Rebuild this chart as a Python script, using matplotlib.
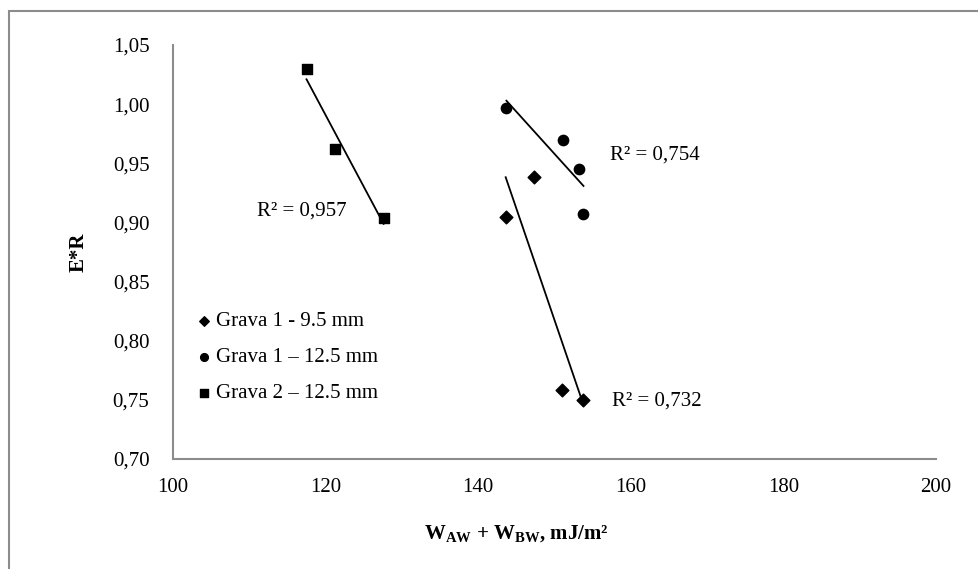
import matplotlib
matplotlib.use("Agg")
import matplotlib.pyplot as plt
from matplotlib.patches import Rectangle
from matplotlib.ticker import FuncFormatter
import numpy as np

plt.rcParams['font.family'] = ['Liberation Serif', 'DejaVu Serif']
plt.rcParams['mathtext.fontset'] = 'custom'
plt.rcParams['mathtext.rm'] = 'Liberation Serif'
plt.rcParams['mathtext.bf'] = 'Liberation Serif:bold'

# data
g1_95_x = [143.6, 147.3, 151.0, 153.8]
g1_95_y = [0.905, 0.938, 0.758, 0.750]
g1_125_x = [143.7, 151.1, 153.2, 153.8]
g1_125_y = [0.997, 0.970, 0.945, 0.907]
g2_125_x = [117.5, 121.2, 127.6]
g2_125_y = [1.030, 0.962, 0.904]

labels = ["Grava 1 - 9.5 mm", "Grava 1 \u2013 12.5 mm", "Grava 2 \u2013 12.5 mm"]
r2_text = ["R\u00b2 = 0,732", "R\u00b2 = 0,754", "R\u00b2 = 0,957"]

FS = 15

fig = plt.figure(figsize=(9.79, 5.69), dpi=100)
ax = fig.add_axes([173/979, 1 - 459/569, (936 - 173)/979, (459 - 45)/569])

# outer chart border (only left/top visible in the crop)
fig.patches.append(Rectangle((9/979, -0.2), 1.2, 1.2 - 11/569, transform=fig.transFigure,
                             fill=False, edgecolor='#8c8c8c', lw=1.5, clip_on=False))

series = [(g1_95_x, g1_95_y, 'D', 42), (g1_125_x, g1_125_y, 'o', 55), (g2_125_x, g2_125_y, 's', 48)]
for (x, y, m, s), lab in zip(series, labels):
    ax.scatter(x, y, marker=m, s=s, color='black', label=lab, zorder=3)
    k, b = np.polyfit(x, y, 1)
    xs = np.array([min(x), max(x)])
    ax.plot(xs, k*xs + b, color='black', lw=1.3, zorder=2)

ax.text(157.5, 0.749, r2_text[0], fontsize=FS, va='center')
ax.text(157.3, 0.957, r2_text[1], fontsize=FS, va='center')
ax.text(111.0, 0.910, r2_text[2], fontsize=FS, va='center')

ax.set_xlim(100, 200)
ax.set_ylim(0.70, 1.05)
ax.set_xticks([100, 120, 140, 160, 180, 200])
ax.set_yticks(np.arange(0.70, 1.051, 0.05))
ax.yaxis.set_major_formatter(FuncFormatter(lambda v, p: f"{v:.2f}".replace('.', ',')))
ax.tick_params(length=0, labelsize=FS)
ax.tick_params(axis='y', pad=17)
ax.tick_params(axis='x', pad=14)
for sp in ['top', 'right']:
    ax.spines[sp].set_visible(False)
for sp in ['left', 'bottom']:
    ax.spines[sp].set_color('#8c8c8c')
    ax.spines[sp].set_linewidth(1.5)

ax.set_ylabel("E*R", fontsize=FS, fontweight='bold')
ax.yaxis.set_label_coords(-0.11, 0.5)
ax.set_xlabel(r"W$_{\mathbf{AW}}$ + W$_{\mathbf{BW}}$, mJ/m²", fontsize=FS, fontweight='bold')
ax.xaxis.set_label_coords((516 - 173)/763, -0.156)

leg = ax.legend(loc='upper left', bbox_to_anchor=(0.005, 0.401), frameon=False, fontsize=FS,
                handletextpad=0.2, labelspacing=0.78, markerscale=0.75, handlelength=0.8)

fig.savefig("out.png", dpi=100)
